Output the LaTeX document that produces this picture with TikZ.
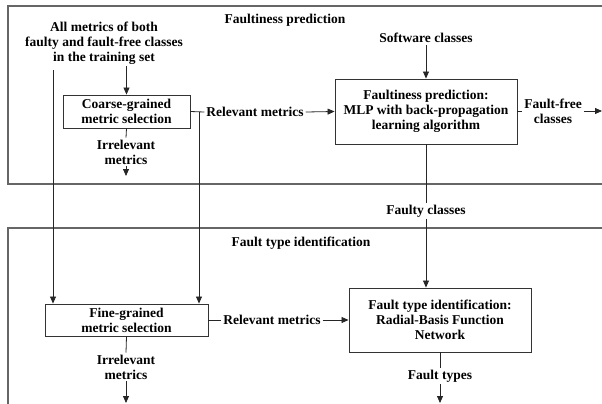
\documentclass[tikz,border=0pt]{standalone}
\usepackage{fontspec}
\setmainfont{Liberation Serif}
\usetikzlibrary{arrows.meta}
\begin{document}
\begin{tikzpicture}[x=1pt,y=-1pt,
  every node/.style={font=\bfseries\fontsize{13.5}{15}\selectfont, align=center, inner sep=2pt},
  frame/.style={draw=black!60, line width=1.1pt},
  box/.style={draw=black!80, line width=0.9pt, inner sep=0pt},
  conn/.style={draw=black!85, line width=0.8pt},
  arr/.style={conn, -{Triangle[length=7pt,width=6pt]}}]
\useasboundingbox (0,0) rectangle (602,404);
% frames
\draw[frame] (602,6) -- (8,6) -- (8,184) -- (602,184);
\draw[frame] (602,228) -- (8,228) -- (8,404);
% titles
\node (t1) at (285,20) {Faultiness prediction};
\node (t2) at (301,243) {Fault type identification};
% nodes
\node (allm) at (104,43) {All metrics of both\\faulty and fault-free classes\\in the training set};
\node[box, minimum width=127pt, minimum height=33pt] (coarse) at (126.5,111.5) {Coarse-grained\\metric selection};
\node (irr1) at (126,152) {Irrelevant\\metrics};
\coordinate (irr1end) at (126,176);
\node (rel1) at (255,112) {Relevant metrics};
\coordinate (split) at (199,112);
\node (soft) at (426,38) {Software classes};
\node[box, minimum width=182pt, minimum height=65pt] (mlp) at (426,111.5) {Faultiness prediction:\\MLP with back-propagation\\learning algorithm};
\node (ff) at (553,111) {Fault-free\\classes};
\coordinate (ffend) at (602,111);
\node (faulty) at (426,211) {Faulty classes};
\node[box, minimum width=163pt, minimum height=32pt] (fine) at (126.5,320) {Fine-grained\\metric selection};
\node (rel2) at (272,320) {Relevant metrics};
\node[box, minimum width=182pt, minimum height=64pt] (rbf) at (440,320) {Fault type identification:\\Radial-Basis Function\\Network};
\node (irr2) at (126,367) {Irrelevant\\metrics};
\coordinate (irr2end) at (126,403);
\node (ftypes) at (440,376) {Fault types};
\coordinate (ftend) at (440,403);
\coordinate (lstart) at (53,70);
% connectors
\draw[arr] (allm.south -| coarse.north) -- (coarse.north);
\draw[arr] (lstart) -- (lstart |- fine.north);
\draw[conn] (coarse.east) -- (rel1.west);
\draw[arr] (split) -- (split |- fine.north);
\draw[arr] (rel1.east) -- (mlp.west);
\draw[conn] (coarse.south) -- (irr1.north);
\draw[arr] (irr1.south) -- (irr1end);
\draw[arr] (soft.south) -- (mlp.north);
\draw[conn] (mlp.east |- ff) -- (ff.west);
\draw[arr] (ff.east) -- (ffend);
\draw[conn] (mlp.south) -- (faulty.north);
\draw[arr] (faulty.south) -- (faulty.south |- rbf.north);
\draw[conn] (fine.east) -- (rel2.west);
\draw[arr] (rel2.east) -- (rbf.west);
\draw[conn] (fine.south) -- (irr2.north);
\draw[arr] (irr2.south) -- (irr2end);
\draw[conn] (rbf.south) -- (ftypes.north);
\draw[arr] (ftypes.south) -- (ftend);
\end{tikzpicture}
\end{document}
